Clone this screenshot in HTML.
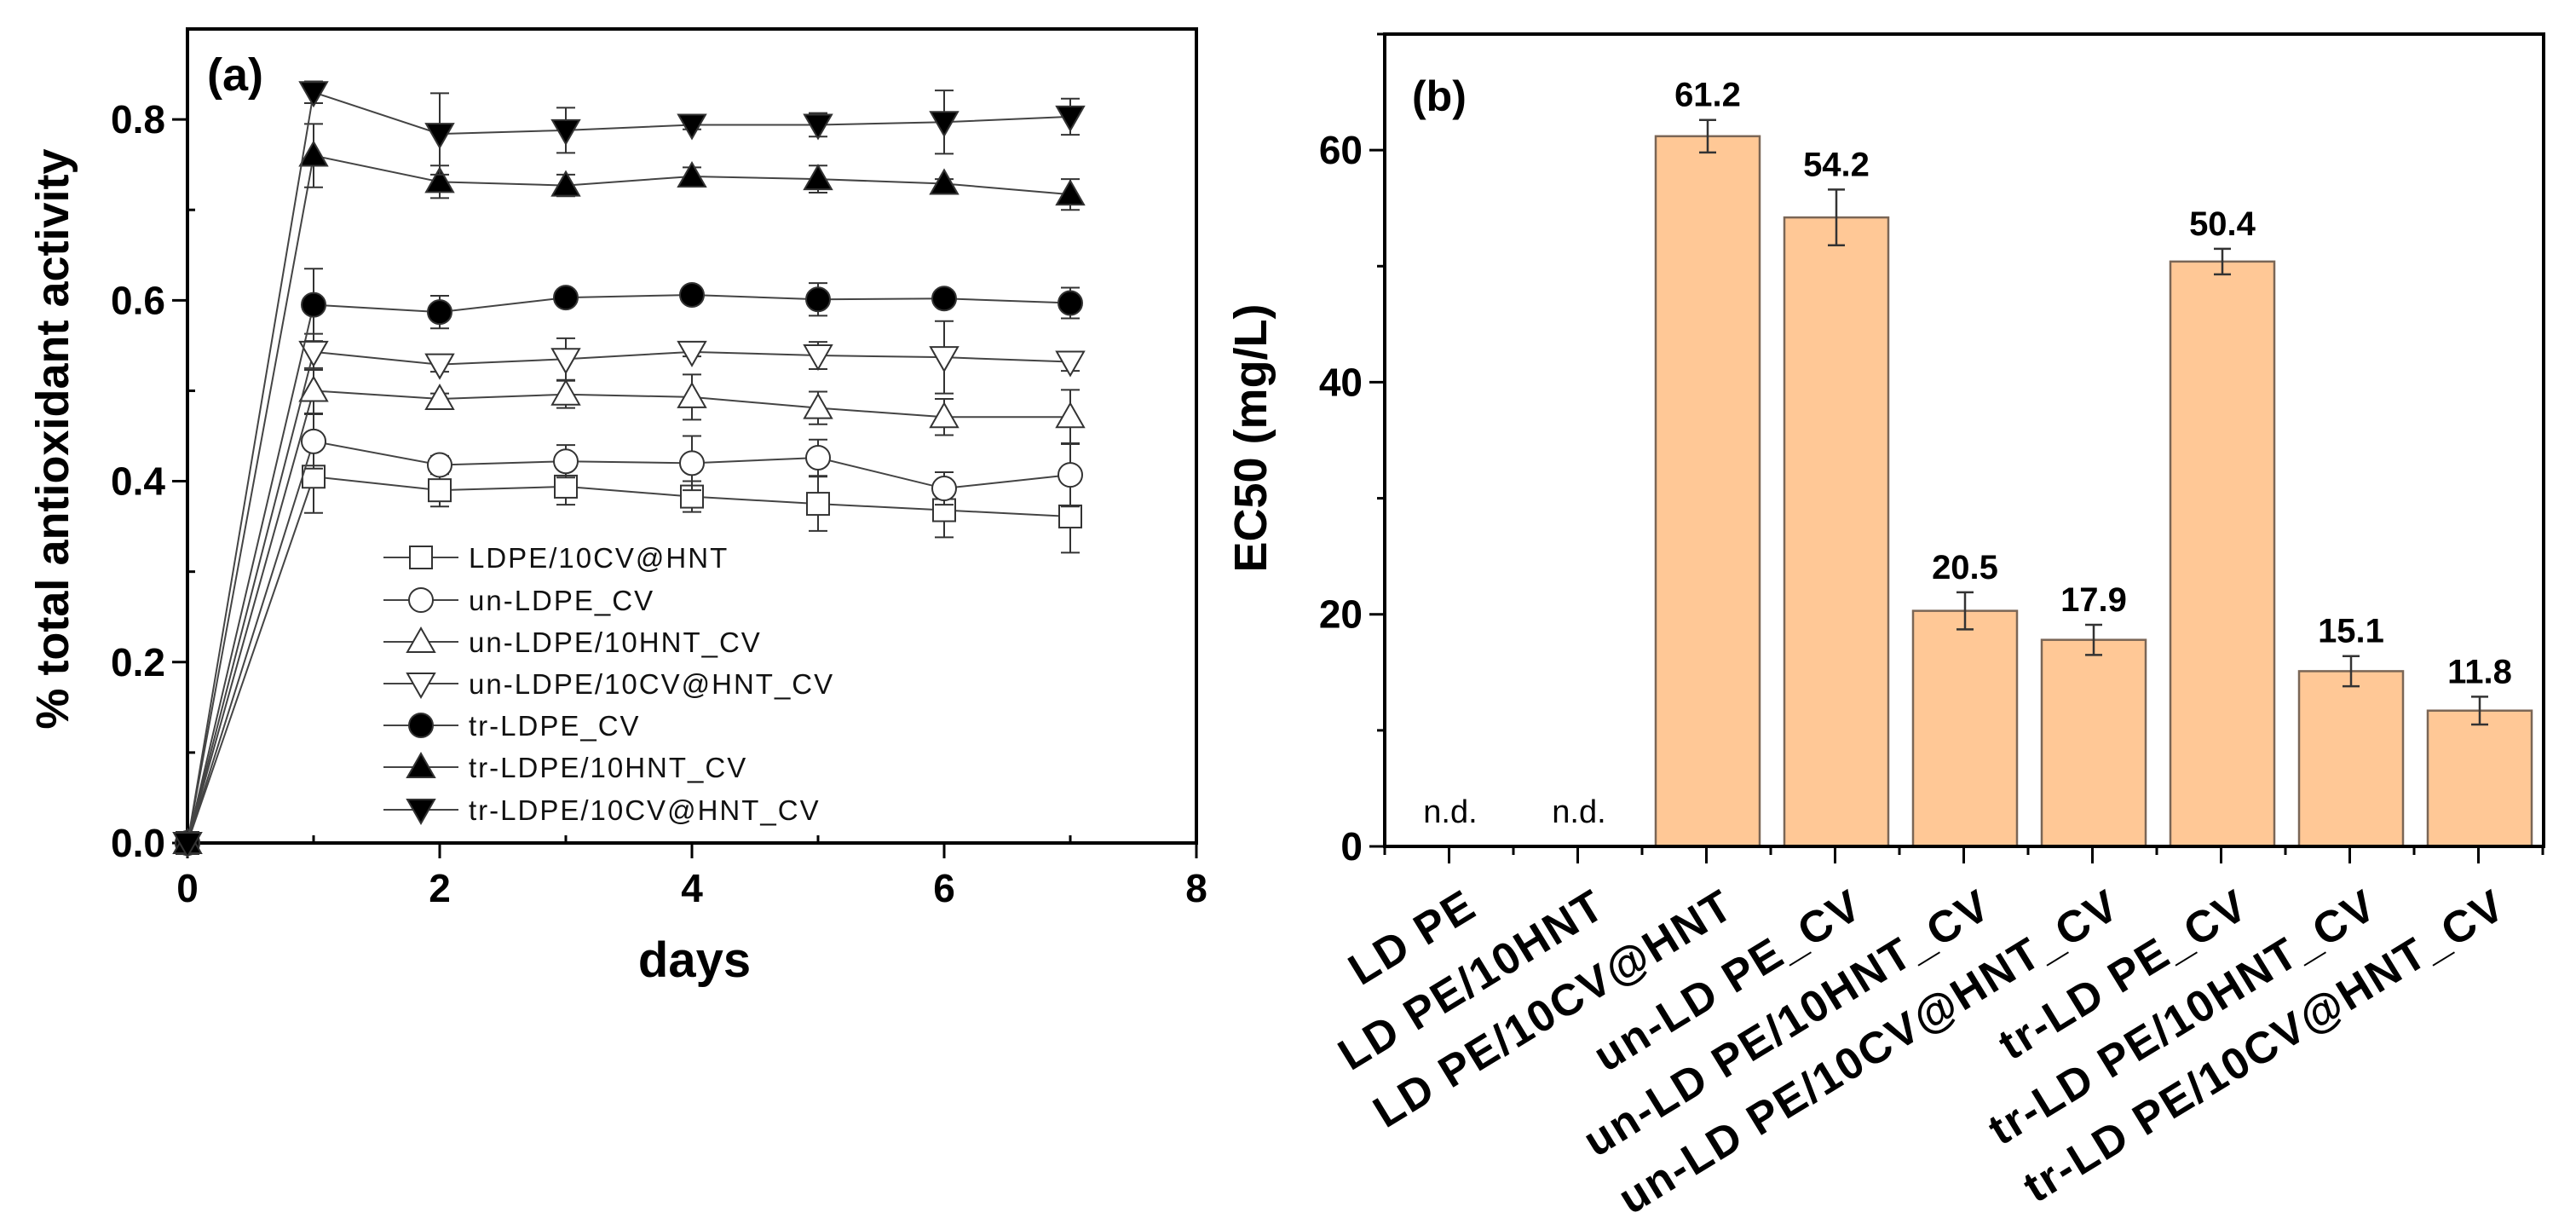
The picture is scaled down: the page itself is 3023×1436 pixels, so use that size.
<!DOCTYPE html>
<html><head><meta charset="utf-8">
<style>
html,body{margin:0;padding:0;background:#fff;}
svg{display:block;font-family:"Liberation Sans",sans-serif;}
</style></head>
<body>
<svg id="chart" width="3023" height="1436" viewBox="0 0 3023 1436" xmlns="http://www.w3.org/2000/svg">
<g id="pa"></g>
<g id="pb"></g>
</svg>
<script>
// ---- Panel (a) data ----
const days = [0,1,2,3,4,5,6,7];
const seriesNames = ["LDPE/10CV@HNT","un-LDPE_CV","un-LDPE/10HNT_CV","un-LDPE/10CV@HNT_CV","tr-LDPE_CV","tr-LDPE/10HNT_CV","tr-LDPE/10CV@HNT_CV"];
const markers = ["square","circle","triUp","triDown","circleF","triUpF","triDownF"];
const valsSq   = [0,0.405,0.390,0.394,0.383,0.375,0.368,0.361];
const errSq    = [0,0.040,0.018,0.020,0.017,0.030,0.030,0.040];
const valsCi   = [0,0.444,0.418,0.422,0.420,0.426,0.392,0.407];
const errCi    = [0,0.030,0.010,0.018,0.030,0.020,0.018,0.035];
const valsTu   = [0,0.500,0.491,0.496,0.493,0.481,0.471,0.471];
const errTu    = [0,0.025,0.006,0.015,0.025,0.018,0.020,0.030];
const valsTd   = [0,0.543,0.529,0.535,0.543,0.539,0.537,0.532];
const errTd    = [0,0.020,0.008,0.023,0.005,0.015,0.040,0.010];
const valsCf   = [0,0.595,0.587,0.603,0.606,0.601,0.602,0.597];
const errCf    = [0,0.040,0.018,0.006,0.008,0.018,0.008,0.017];
const valsTuf  = [0,0.760,0.731,0.727,0.737,0.734,0.729,0.717];
const errTuf   = [0,0.035,0.018,0.012,0.010,0.015,0.005,0.017];
const valsTdf  = [0,0.830,0.784,0.788,0.794,0.794,0.797,0.803];
const errTdf   = [0,0.012,0.045,0.025,0.005,0.013,0.035,0.020];
const aVals = [valsSq,valsCi,valsTu,valsTd,valsCf,valsTuf,valsTdf];
const aErrs = [errSq,errCi,errTu,errTd,errCf,errTuf,errTdf];
const aXTicks = [0,2,4,6,8];
const aYTicks = [0.0,0.2,0.4,0.6,0.8];

// ---- Panel (b) data ----
const categories = ["LD PE","LD PE/10HNT","LD PE/10CV@HNT","un-LD PE_CV","un-LD PE/10HNT_CV","un-LD PE/10CV@HNT_CV","tr-LD PE_CV","tr-LD PE/10HNT_CV","tr-LD PE/10CV@HNT_CV"];
const ec50 = [null,null,61.2,54.2,20.3,17.8,50.4,15.1,11.7];
const ec50Err = [0,0,1.4,2.4,1.6,1.3,1.1,1.3,1.2];
const ec50Labels = ["n.d.","n.d.","61.2","54.2","20.5","17.9","50.4","15.1","11.8"];
const bYTicks = [0,20,40,60];

const NS="http://www.w3.org/2000/svg";
function mk(parent,tag,attrs,text){const e=document.createElementNS(NS,tag);for(const k in attrs)e.setAttribute(k,attrs[k]);if(text!==undefined)e.textContent=text;parent.appendChild(e);return e;}

// ===== Panel A =====
const pa=document.getElementById('pa');
const AL=220,AR=1404,AT=34,AB=989;
const ax=d=>AL+(d-0)/(8-0)*(AR-AL);
const ay=v=>AB-(v/0.9)*(AB-AT);
let fr=mk(pa,'rect',{x:AL,y:AT,width:AR-AL,height:AB-AT,fill:'none',stroke:'#000','stroke-width':4});

for(let d=0;d<=8;d++){
  const major=d%2===0;
  const t=mk(pa,'line',{x1:ax(d),x2:ax(d),y1:AB,y2:major?AB+18:AB-9,stroke:'#000','stroke-width':3});
  
}
aXTicks.forEach(d=>{const t=mk(pa,'text',{x:ax(d),y:1058,'text-anchor':'middle','font-size':46,'font-weight':'bold'},String(d));
  });
for(let i=0;i<=9;i++){const v=i*0.1;const major=i%2===0;
  const t=mk(pa,'line',{x1:AL,x2:major?AL-18:AL+9,y1:ay(v),y2:ay(v),stroke:'#000','stroke-width':3});
  }
aYTicks.forEach(v=>{const t=mk(pa,'text',{x:AL-26,y:ay(v)+16,'text-anchor':'end','font-size':46,'font-weight':'bold'},v.toFixed(1));
  });
let t1=mk(pa,'text',{x:0,y:0,transform:'translate(80,515) rotate(-90)','text-anchor':'middle','font-size':54,'font-weight':'bold'},'% total antioxidant activity');

let t2=mk(pa,'text',{x:815,y:1146,'text-anchor':'middle','font-size':58,'font-weight':'bold'},'days');

let t3=mk(pa,'text',{x:243,y:106,'font-size':54,'font-weight':'bold'},'(a)');


function marker(g,type,x,y){
  const s=13;const fill=type.endsWith('F')?'#000':'#fff';const base=type.replace('F','');
  let m;
  if(base==='square') m=mk(g,'rect',{x:x-s,y:y-s,width:2*s,height:2*s,fill:fill,stroke:'#333','stroke-width':2});
  else if(base==='circle') m=mk(g,'circle',{cx:x,cy:y,r:s+1,fill:fill,stroke:'#333','stroke-width':2});
  else if(base==='triUp') m=mk(g,'polygon',{points:`${x-16},${y+12} ${x+16},${y+12} ${x},${y-16}`,fill:fill,stroke:'#333','stroke-width':2});
  else m=mk(g,'polygon',{points:`${x-16},${y-12} ${x+16},${y-12} ${x},${y+16}`,fill:fill,stroke:'#333','stroke-width':2});
  
}
aVals.forEach((vals,si)=>{
  const g=mk(pa,'g',{});
  
  
  const pts=vals.map((v,i)=>ax(days[i])+','+ay(v)).join(' ');
  const pl=mk(g,'polyline',{points:pts,fill:'none',stroke:'#444','stroke-width':2});
  
  vals.forEach((v,i)=>{
    const e=aErrs[si][i];
    if(e>0){const x=ax(days[i]);
      const eb=mk(g,'path',{d:`M${x},${ay(v+e)}V${ay(v-e)}M${x-11},${ay(v+e)}H${x+11}M${x-11},${ay(v-e)}H${x+11}`,stroke:'#333','stroke-width':2,fill:'none'});
      }
    marker(g,markers[si],ax(days[i]),ay(v));
  });
});
// legend
const lg=mk(pa,'g',{});

const legY=[654,704,753,802,851,900,950];
seriesNames.forEach((n,i)=>{
  const g=mk(lg,'g',{});
  
  mk(g,'line',{x1:450,x2:538,y1:legY[i],y2:legY[i],stroke:'#444','stroke-width':2});
  marker(g,markers[i],494,legY[i]);
  mk(g,'text',{x:550,y:legY[i]+12,'font-size':33,'letter-spacing':2,fill:'#111'},n);
});

// ===== Panel B =====
const pb=document.getElementById('pb');
const BL=1625,BR=2985,BT=40,BB=993;
const bx=i=>1702+i*151;
const by=v=>BB-v/70*(BB-BT);
const bw=122;
categories.forEach((c,i)=>{
  const g=mk(pb,'g',{});
  
  const v=ec50[i];
  if(v!==null){
    const r=mk(g,'rect',{x:bx(i)-bw/2,y:by(v),width:bw,height:BB-by(v),fill:'#FFC896',stroke:'#7a6656','stroke-width':2.5});
    
    const e=ec50Err[i],x=bx(i);
    const eb=mk(g,'path',{d:`M${x},${by(v+e)}V${by(v-e)}M${x-10},${by(v+e)}H${x+10}M${x-10},${by(v-e)}H${x+10}`,stroke:'#333','stroke-width':2.5,fill:'none'});
    
    const l=mk(g,'text',{x:x,y:by(v+e)-16,'text-anchor':'middle','font-size':40,'font-weight':'bold'},ec50Labels[i]);
    
  } else {
    const l=mk(g,'text',{x:bx(i),y:965,'text-anchor':'middle','font-size':38},ec50Labels[i]);
    
  }
  const cl=mk(pb,'text',{x:0,y:0,transform:`translate(${bx(i)+34},${1072}) rotate(-31.5)`,'text-anchor':'end','font-size':52,'letter-spacing':2,'font-weight':'bold'},c);
  
});
let fb=mk(pb,'rect',{x:BL,y:BT,width:BR-BL,height:BB-BT,fill:'none',stroke:'#000','stroke-width':4});

for(let i=0;i<=18;i++){const x=BL+i*75.5;const major=i%2===1;
  const t=mk(pb,'line',{x1:x,x2:x,y1:BB,y2:BB+(major?20:10),stroke:'#000','stroke-width':3});
  }
for(let v=0;v<=70;v+=10){const major=v%20===0;
  const t=mk(pb,'line',{x1:BL,x2:BL-(major?18:9),y1:by(v),y2:by(v),stroke:'#000','stroke-width':3});
  }
bYTicks.forEach(v=>{const t=mk(pb,'text',{x:BL-26,y:by(v)+16,'text-anchor':'end','font-size':46,'font-weight':'bold'},String(v));
  });
let t4=mk(pb,'text',{x:0,y:0,transform:'translate(1486,514) rotate(-90)','text-anchor':'middle','font-size':54,'font-weight':'bold'},'EC50 (mg/L)');

let t5=mk(pb,'text',{x:1657,y:130,'font-size':50,'font-weight':'bold'},'(b)');

</script>
</body></html>
